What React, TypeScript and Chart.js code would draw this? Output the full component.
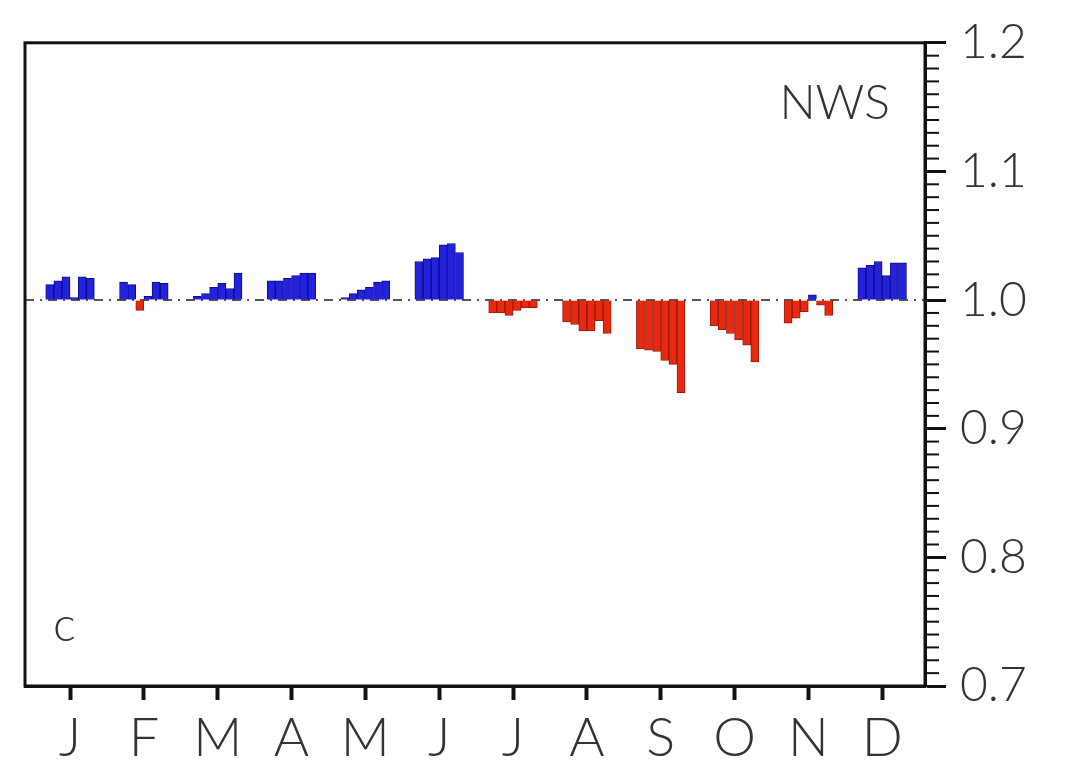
import React, { useEffect, useRef } from 'react';
import { Chart, registerables } from 'chart.js';

Chart.register(...registerables);

// ---- data ----
const months = ['J', 'F', 'M', 'A', 'M', 'J', 'J', 'A', 'S', 'O', 'N', 'D'];
const yTickValues = [0.7, 0.8, 0.9, 1.0, 1.1, 1.2];
const baseline = 1.0;

const janValues = [1.012, 1.015, 1.018, 1.002, 1.018, 1.017];
const febValues = [1.014, 1.012, 0.992, 1.003, 1.014, 1.013];
const marValues = [1.003, 1.005, 1.010, 1.013, 1.009, 1.021];
const aprValues = [1.015, 1.015, 1.017, 1.019, 1.021, 1.021];
const mayValues = [1.002, 1.005, 1.008, 1.010, 1.014, 1.015];
const junValues = [1.030, 1.032, 1.033, 1.043, 1.044, 1.037];
const julValues = [0.990, 0.990, 0.988, 0.992, 0.994, 0.994];
const augValues = [0.983, 0.981, 0.976, 0.976, 0.984, 0.974];
const sepValues = [0.962, 0.961, 0.960, 0.953, 0.950, 0.928];
const octValues = [0.980, 0.977, 0.974, 0.969, 0.965, 0.952];
const novValues = [0.982, 0.986, 0.991, 1.004, 0.996, 0.988];
const decValues = [1.025, 1.027, 1.030, 1.019, 1.029, 1.029];

const monthlyValues = [
  janValues, febValues, marValues, aprValues, mayValues, junValues,
  julValues, augValues, sepValues, octValues, novValues, decValues,
];

const regionLabel = 'NWS';
const panelLabel = 'c';

// ---- styles ----
const FONT = 'Lato, "DejaVu Sans", sans-serif';
const WEIGHT = 300;
const BLUE = '#2222dc';
const BLUE_EDGE = '#0d0d86';
const RED = '#e8290f';
const RED_EDGE = '#981a08';
const INK = '#111111';
const TEXT = '#333333';

const W = 1077;
const H = 773;
const SLOT = 0.11; // width of one bar in month units

export default function App() {
  const ref = useRef<HTMLCanvasElement | null>(null);

  useEffect(() => {
    if (!ref.current) return;

    const points: { x: number; y: number }[] = [];
    monthlyValues.forEach((vals, m) => {
      const n = vals.length;
      vals.forEach((v, k) => {
        points.push({ x: m + (k - (n - 1) / 2) * SLOT, y: v });
      });
    });

    const decor = {
      id: 'decor',
      beforeDatasetsDraw(chart: any) {
        const { ctx, chartArea, scales } = chart;
        const y = scales.y.getPixelForValue(baseline);
        ctx.save();
        ctx.strokeStyle = '#555555';
        ctx.lineWidth = 2;
        ctx.setLineDash([9, 6, 2, 6]);
        ctx.beginPath();
        ctx.moveTo(chartArea.left, y);
        ctx.lineTo(chartArea.right, y);
        ctx.stroke();
        ctx.restore();
      },
      afterDraw(chart: any) {
        const { ctx, chartArea, scales } = chart;
        ctx.save();
        ctx.strokeStyle = INK;
        ctx.lineWidth = 3;
        ctx.strokeRect(chartArea.left, chartArea.top, chartArea.right - chartArea.left, chartArea.bottom - chartArea.top);
        ctx.lineWidth = 2;
        for (let i = 70; i <= 120; i++) {
          if (i % 10 === 0) continue;
          const py = scales.y.getPixelForValue(i / 100);
          ctx.beginPath();
          ctx.moveTo(chartArea.right, py);
          ctx.lineTo(chartArea.right + 14, py);
          ctx.stroke();
        }
        ctx.fillStyle = TEXT;
        ctx.font = `${WEIGHT} 48px ${FONT}`;
        ctx.textAlign = 'right';
        ctx.textBaseline = 'alphabetic';
        ctx.fillText(regionLabel, chartArea.right - 35, chartArea.top + 76);
        ctx.textAlign = 'left';
        ctx.fillText(panelLabel, chartArea.left + 28, chartArea.bottom - 45);
        ctx.restore();
      },
    };

    const chart = new Chart(ref.current, {
      type: 'bar',
      data: {
        datasets: [
          {
            data: points as any,
            base: baseline,
            backgroundColor: (c: any) => (c.raw && c.raw.y >= baseline ? BLUE : RED),
            borderColor: (c: any) => (c.raw && c.raw.y >= baseline ? BLUE_EDGE : RED_EDGE),
            borderWidth: 1,
            barThickness: 8,
          } as any,
        ],
      },
      options: {
        responsive: false,
        animation: false,
        devicePixelRatio: 1,
        layout: { padding: { left: 25, top: 42, right: 0, bottom: 0 } },
        plugins: { legend: { display: false }, tooltip: { enabled: false } },
        scales: {
          x: {
            type: 'linear',
            offset: false,
            min: -0.61,
            max: 11.58,
            afterBuildTicks: (s: any) => {
              s.ticks = months.map((_, i) => ({ value: i }));
            },
            afterFit: (s: any) => {
              s.height = H - 686;
            },
            ticks: {
              autoSkip: false,
              maxRotation: 0,
              padding: 6,
              color: TEXT,
              font: { family: FONT, size: 54, weight: WEIGHT as any },
              callback: (v: any) => months[Math.round(Number(v))],
            },
            grid: { offset: false, drawOnChartArea: false, tickLength: 14, tickWidth: 4, tickColor: INK },
            border: { display: true, color: INK, width: 3 },
          },
          y: {
            type: 'linear',
            position: 'right',
            min: 0.7,
            max: 1.2,
            afterBuildTicks: (s: any) => {
              s.ticks = yTickValues.map((v) => ({ value: v }));
            },
            afterFit: (s: any) => {
              s.width = W - 925;
            },
            ticks: {
              padding: 14,
              color: TEXT,
              font: { family: FONT, size: 48, weight: WEIGHT as any },
              callback: (v: any) => Number(v).toFixed(1),
            },
            grid: { drawOnChartArea: false, tickLength: 21, tickWidth: 3, tickColor: INK },
            border: { display: true, color: INK, width: 3 },
          },
        },
      },
      plugins: [decor],
    });

    return () => chart.destroy();
  }, []);

  return (
    <div style={{ position: 'fixed', left: 0, top: 0, width: W, height: H, background: '#ffffff' }}>
      <canvas ref={ref} width={W} height={H} style={{ display: 'block' }} />
    </div>
  );
}
